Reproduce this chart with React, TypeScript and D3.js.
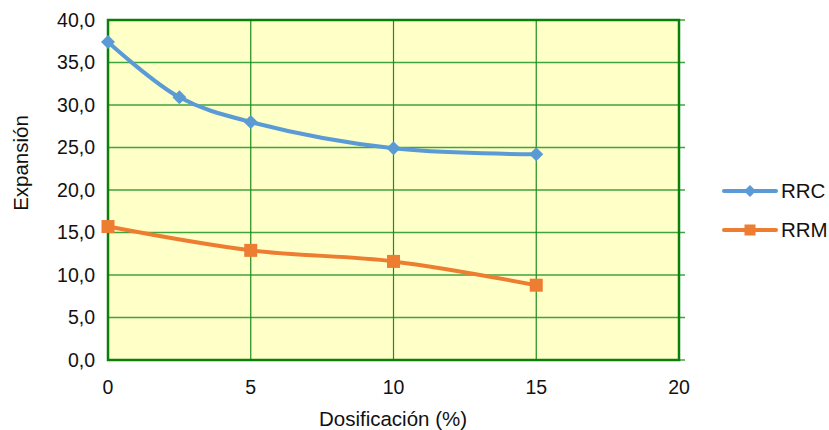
import React from "react";
import * as d3 from "d3";

const rrcX = [0, 2.5, 5, 10, 15];
const rrcY = [37.4, 30.9, 28.0, 24.9, 24.2];
const rrmX = [0, 5, 10, 15];
const rrmY = [15.7, 12.9, 11.6, 8.8];
const xTicks = [0, 5, 10, 15, 20];
const yTicks = [0, 5, 10, 15, 20, 25, 30, 35, 40];
const seriesNames = ["RRC", "RRM"];

const W = 829, H = 430;
const L = 108, R = 679, T = 20, B = 360;

export default function App() {
  const x = d3.scaleLinear().domain([0, 20]).range([L, R]);
  const y = d3.scaleLinear().domain([0, 40]).range([B, T]);
  const line = d3
    .line<[number, number]>()
    .x((d) => x(d[0]))
    .y((d) => y(d[1]))
    .curve(d3.curveCatmullRom.alpha(0.5));
  const rrc: [number, number][] = rrcX.map((v, i) => [v, rrcY[i]]);
  const rrm: [number, number][] = rrmX.map((v, i) => [v, rrmY[i]]);
  const font = "'Liberation Sans', Arial, sans-serif";
  const blue = "#5B9BD5";
  const orange = "#ED7D31";
  const diamond = (cx: number, cy: number, s: number) =>
    `M${cx},${cy - s}L${cx + s},${cy}L${cx},${cy + s}L${cx - s},${cy}Z`;

  return (
    <svg width={W} height={H} style={{ position: "absolute", left: 0, top: 0 }} fontFamily={font}>
      <rect x={0} y={0} width={W} height={H} fill="#fff" />
      <rect x={L} y={T} width={R - L} height={B - T} fill="#FFFFC8" />
      {yTicks.slice(1, -1).map((t) => (
        <line key={"gy" + t} x1={L} x2={R + 6} y1={y(t)} y2={y(t)} stroke="#3FA33F" strokeWidth={1.5} />
      ))}
      {xTicks.slice(1, -1).map((t) => (
        <line key={"gx" + t} x1={x(t)} x2={x(t)} y1={T} y2={B} stroke="#1E8C1E" strokeWidth={1.2} />
      ))}
      <line x1={R} x2={R + 6} y1={T} y2={T} stroke="#3FA33F" strokeWidth={1.5} />
      <line x1={R} x2={R + 6} y1={B} y2={B} stroke="#3FA33F" strokeWidth={1.5} />
      <rect x={L} y={T} width={R - L} height={B - T} fill="none" stroke="#0A800A" strokeWidth={2.5} />
      {yTicks.map((t) => (
        <text key={"yt" + t} x={95} y={y(t)} dy="0.35em" textAnchor="end" fontSize={19.5} fill="#111">
          {t.toFixed(1).replace(".", ",")}
        </text>
      ))}
      {xTicks.map((t) => (
        <text key={"xt" + t} x={x(t)} y={394} textAnchor="middle" fontSize={19.5} fill="#111">
          {t}
        </text>
      ))}
      <text x={393} y={426} textAnchor="middle" fontSize={20.5} fill="#111">
        Dosificación (%)
      </text>
      <text transform={`translate(28,163) rotate(-90)`} textAnchor="middle" fontSize={20.5} fill="#111">
        Expansión
      </text>
      <path d={line(rrc) || ""} fill="none" stroke={blue} strokeWidth={4} strokeLinecap="round" />
      <path d={line(rrm) || ""} fill="none" stroke={orange} strokeWidth={4} strokeLinecap="round" />
      {rrc.map((d, i) => (
        <path key={"rc" + i} d={diamond(x(d[0]), y(d[1]), 7)} fill={blue} />
      ))}
      {rrm.map((d, i) => (
        <rect key={"rm" + i} x={x(d[0]) - 6.5} y={y(d[1]) - 6.5} width={13} height={13} fill={orange} />
      ))}
      <g>
        <line x1={724} x2={776} y1={191} y2={191} stroke={blue} strokeWidth={4} strokeLinecap="round" />
        <path d={diamond(750, 191, 6)} fill={blue} />
        <text x={781} y={191} dy="0.35em" fontSize={20.5} fill="#111">{seriesNames[0]}</text>
        <line x1={724} x2={776} y1={230} y2={230} stroke={orange} strokeWidth={4} strokeLinecap="round" />
        <rect x={744.5} y={224.5} width={11} height={11} fill={orange} />
        <text x={781} y={230} dy="0.35em" fontSize={20.5} fill="#111">{seriesNames[1]}</text>
      </g>
    </svg>
  );
}
